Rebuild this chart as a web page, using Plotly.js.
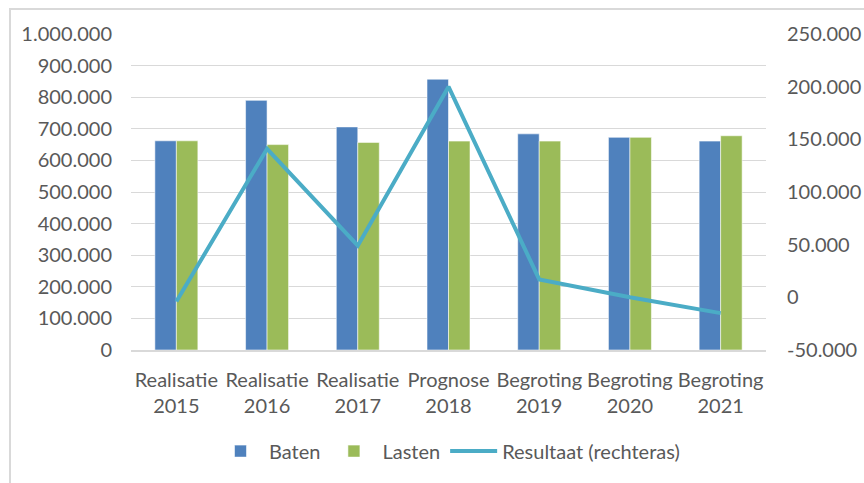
<!DOCTYPE html>
<html>
<head>
<meta charset="utf-8">
<script src="https://cdn.plot.ly/plotly-3.0.1.min.js"></script>
<style>
html,body{margin:0;padding:0;background:#fff;overflow:hidden;}
#frame{position:absolute;left:9px;top:8px;width:1000px;height:600px;border-left:2px solid #D9D9D9;border-top:2px solid #D9D9D9;}
#chart{position:absolute;left:0;top:0;width:864px;height:483px;}
</style>
</head>
<body>
<div id="frame"></div>
<div id="chart"></div>
<script>
const categories = ["Realisatie<br>2015","Realisatie<br>2016","Realisatie<br>2017","Prognose<br>2018","Begroting<br>2019","Begroting<br>2020","Begroting<br>2021"];
const baten = [662000, 790000, 706000, 857000, 684000, 673000, 661000];
const lasten = [662000, 650000, 657000, 661000, 661000, 673000, 678000];
const resultaat = [-4000, 141000, 49000, 200000, 17000, 0, -15000];

const leftTickVals = [0,100000,200000,300000,400000,500000,600000,700000,800000,900000,1000000];
const leftTickText = ["0","100.000","200.000","300.000","400.000","500.000","600.000","700.000","800.000","900.000","1.000.000"];
const rightTickVals = [-50000,0,50000,100000,150000,200000,250000];
const rightTickText = ["-50.000","0","50.000","100.000","150.000","200.000","250.000"];

const fontFamily = "Lato, 'Open Sans', sans-serif";
const textColor = "#595959";

const data = [
  {type:"bar", name:"Baten", x:categories, y:baten,
   marker:{color:"#4F81BD", line:{color:"rgba(255,255,255,0.55)", width:1}}},
  {type:"bar", name:"Lasten", x:categories, y:lasten,
   marker:{color:"#9BBB59", line:{color:"rgba(255,255,255,0.55)", width:1}}},
  {type:"scatter", mode:"lines", name:"Resultaat (rechteras)", x:categories, y:resultaat, yaxis:"y2",
   line:{color:"#4BACC6", width:4}}
];

const layout = {
  width:864, height:483,
  margin:{l:131, r:98, t:34, b:130, pad:0},
  paper_bgcolor:"rgba(0,0,0,0)", plot_bgcolor:"rgba(0,0,0,0)",
  font:{family:fontFamily, size:20, color:textColor},
  barmode:"group", bargap:0.526, bargroupgap:0,
  showlegend:true,
  legend:{orientation:"h", x:0.5, xanchor:"center", y:-0.32, yanchor:"middle",
          font:{family:fontFamily, size:20, color:textColor}, itemwidth:47, traceorder:"normal"},
  xaxis:{type:"category", showgrid:false, showline:true, linecolor:"#D9D9D9", linewidth:1.5,
         ticks:"", tickfont:{family:fontFamily, size:20, color:textColor}, ticklabelstandoff:11,
         fixedrange:true},
  yaxis:{range:[0,1000000], tickvals:leftTickVals, ticktext:leftTickText, showgrid:true,
         gridcolor:"#D9D9D9", gridwidth:1, zeroline:false, showline:false, ticks:"",
         ticklabelstandoff:18, tickfont:{family:fontFamily, size:20, color:textColor}},
  yaxis2:{range:[-50000,250000], tickvals:rightTickVals, ticktext:rightTickText, overlaying:"y",
          side:"right", showgrid:false, zeroline:false, showline:false, ticks:"",
          ticklabelstandoff:20, tickfont:{family:fontFamily, size:20, color:textColor}}
};

Plotly.newPlot("chart", data, layout, {displayModeBar:false, staticPlot:true});
</script>
</body>
</html>
